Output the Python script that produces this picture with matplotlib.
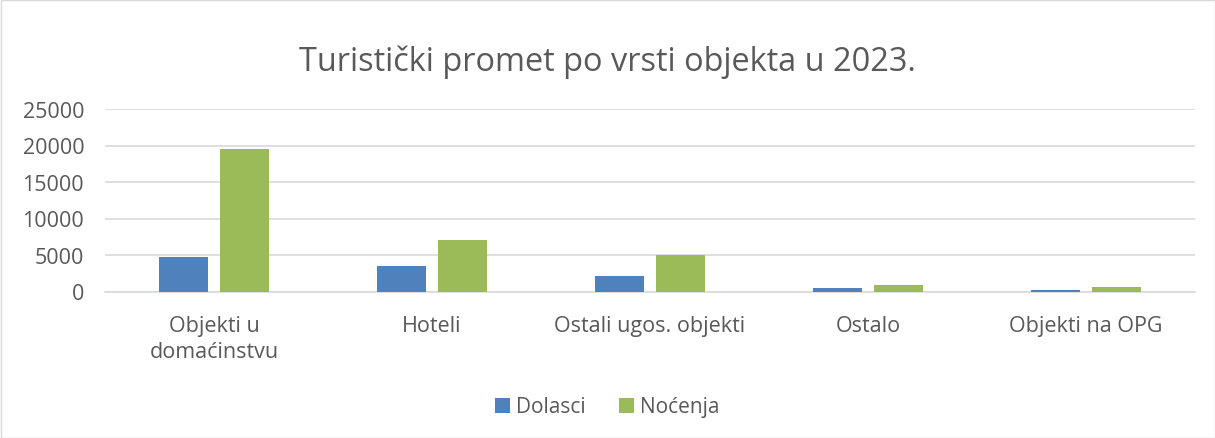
import matplotlib
matplotlib.use("Agg")
import matplotlib.pyplot as plt
from matplotlib.patches import Rectangle
import numpy as np

categories = ["Objekti u\ndomaćinstvu", "Hoteli", "Ostali ugos. objekti", "Ostalo", "Objekti na OPG"]
dolasci = [4700, 3550, 2080, 480, 150]
nocenja = [19500, 7100, 5050, 850, 580]
yticks = [0, 5000, 10000, 15000, 20000, 25000]

plt.rcParams["font.family"] = ["Open Sans", "DejaVu Sans"]
text_color = "#595959"

fig = plt.figure(figsize=(12.15, 4.39), dpi=100)
ax = fig.add_axes([105 / 1215, 1 - 292.5 / 439, 1090 / 1215, 182.5 / 439])

x = np.arange(len(categories))
w = 0.225
off = 0.141
ax.bar(x - off, dolasci, w, color="#4F81BD", label="Dolasci", zorder=3)
ax.bar(x + off, nocenja, w, color="#9BBB59", label="Noćenja", zorder=3)

ax.set_xlim(-0.5, len(categories) - 0.5)
ax.set_ylim(0, 25000)
ax.set_yticks(yticks)
ax.set_yticklabels([str(v) for v in yticks], fontsize=15.5, color=text_color)
ax.set_xticks(x)
ax.set_xticklabels(categories, fontsize=15.5, color=text_color, linespacing=1.3)
ax.tick_params(axis="both", length=0)
ax.tick_params(axis="y", pad=15)
ax.tick_params(axis="x", pad=17)
ax.yaxis.grid(True, color="#D9D9D9", linewidth=1.2, zorder=0)
for s in ["top", "right", "left"]:
    ax.spines[s].set_visible(False)
ax.spines["bottom"].set_color("#D9D9D9")
ax.spines["bottom"].set_linewidth(1.2)

fig.text(0.5, 1 - 62 / 439, "Turistički promet po vrsti objekta u 2023.",
         ha="center", va="center", fontsize=23.4, color=text_color)

fig.legend(loc="center", bbox_to_anchor=(0.5, 1 - 408 / 439), ncol=2, frameon=False,
           fontsize=15, labelcolor=text_color, handlelength=0.7, handleheight=0.7,
           handletextpad=0.3, columnspacing=1.6)

fig.patches.append(Rectangle((0.5 / 1215, 0.5 / 439), 1 - 1 / 1215, 1 - 1 / 439,
                             transform=fig.transFigure, fill=False,
                             edgecolor="#D9D9D9", linewidth=1))

fig.savefig("out.png", dpi=100)
